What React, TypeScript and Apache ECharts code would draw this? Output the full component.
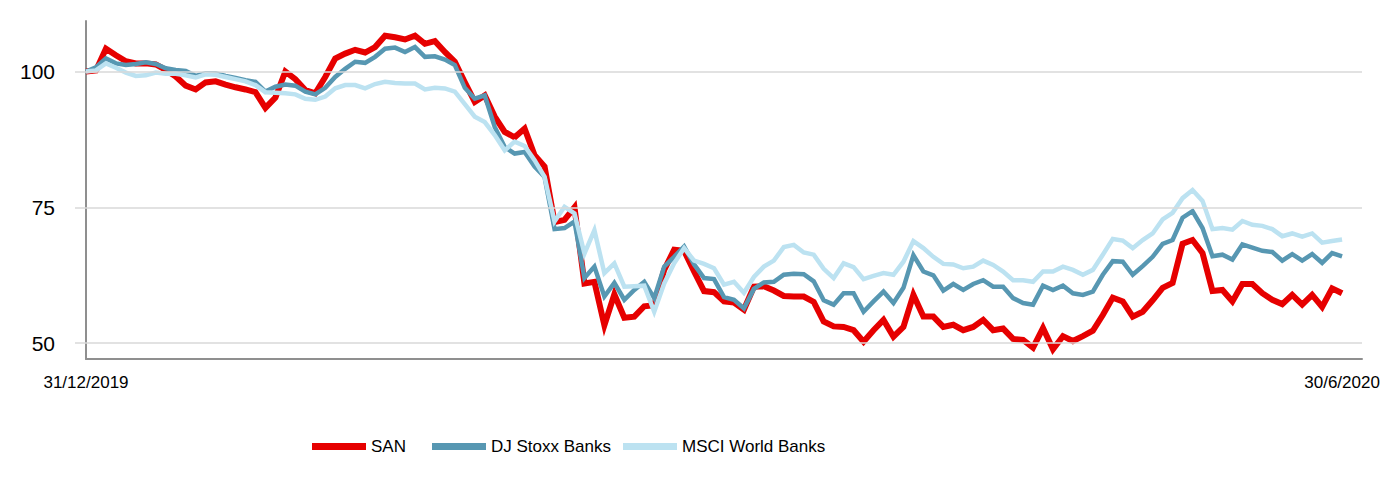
import { useEffect, useRef } from "react";
import * as echarts from "echarts";

const startLabel = "31/12/2019";
const endLabel = "30/6/2020";
const yTicks = [50, 75, 100];
const seriesNames = ["SAN", "DJ Stoxx Banks", "MSCI World Banks"];

const san = [
  100.0, 100.2, 104.2, 103.0, 101.9, 101.5, 101.5, 101.3, 100.3, 99.1,
  97.4, 96.7, 98.0, 98.2, 97.6, 97.1, 96.7, 96.2, 93.3, 95.2,
  100.0, 98.6, 96.6, 96.0, 99.0, 102.4, 103.3, 104.0, 103.5, 104.5,
  106.6, 106.3, 105.9, 106.6, 105.1, 105.6, 103.6, 101.8, 98.0, 94.4,
  95.6, 91.7, 88.9, 87.9, 89.5, 84.6, 82.5, 72.3, 72.7, 75.0,
  61.0, 61.3, 53.3, 59.0, 54.7, 54.9, 56.8, 57.0, 63.5, 67.2,
  67.0, 63.2, 59.6, 59.4, 57.7, 57.5, 56.2, 60.4, 60.5, 59.7,
  58.7, 58.6, 58.6, 57.6, 54.0, 53.1, 53.0, 52.4, 50.3, 52.4,
  54.3, 51.2, 53.0, 58.9, 54.9, 54.9, 53.0, 53.4, 52.4, 53.0,
  54.3, 52.4, 52.7, 50.8, 50.6, 49.2, 52.8, 48.9, 51.3, 50.4,
  51.3, 52.3, 55.2, 58.4, 57.7, 54.9, 55.8, 57.9, 60.2, 61.1,
  68.3, 69.0, 66.6, 59.6, 59.8, 57.7, 60.9, 60.9, 59.2, 58.0,
  57.2, 58.9, 57.1, 58.9, 56.7, 60.1, 59.2,
];

const djStoxxBanks = [
  100.0, 100.8, 102.4, 101.5, 101.2, 101.4, 101.7, 101.4, 100.6, 100.3,
  100.1, 99.2, 99.7, 99.7, 99.2, 98.8, 98.4, 98.1, 96.3, 97.2,
  97.6, 97.4, 96.3, 95.8, 97.0, 99.0, 100.5, 101.8, 101.6, 102.7,
  104.2, 104.4, 103.6, 104.5, 102.7, 102.8, 102.2, 101.2, 97.0, 95.0,
  95.6, 89.8, 86.1, 84.9, 85.2, 82.5, 80.6, 71.0, 71.2, 72.4,
  62.0, 64.1, 58.6, 61.1, 58.0, 59.8, 61.3, 58.3, 64.1, 65.9,
  67.8, 64.5, 62.0, 61.8, 58.5, 58.0, 56.4, 60.0, 61.2, 61.3,
  62.6, 62.8, 62.7, 61.4, 57.9, 57.1, 59.2, 59.2, 55.8, 57.7,
  59.5, 57.4, 60.2, 66.2, 63.2, 62.5, 59.7, 60.9, 59.8, 60.9,
  61.6, 60.4, 60.4, 58.3, 57.4, 57.1, 60.6, 59.8, 60.6, 59.2,
  58.9, 59.5, 62.6, 65.1, 65.0, 62.6, 64.2, 65.9, 68.3, 69.0,
  73.1, 74.3, 71.2, 66.0, 66.3, 65.4, 68.2, 67.6, 67.0, 66.8,
  65.2, 66.4, 65.2, 66.4, 64.8, 66.6, 66.0,
];

const msciWorldBanks = [
  100.0, 100.2, 101.5, 100.7, 99.8, 99.2, 99.3, 99.8, 99.6, 99.6,
  99.3, 98.9, 99.5, 99.4, 99.0, 98.6, 98.2, 97.5, 96.2, 96.1,
  96.0, 95.8, 95.0, 94.8, 95.4, 96.9, 97.5, 97.5, 96.9, 97.7,
  98.1, 97.9, 97.8, 97.8, 96.7, 97.0, 96.9, 96.3, 94.0, 91.7,
  90.7, 88.3, 85.5, 87.1, 86.3, 83.7, 80.6, 72.4, 75.1, 73.9,
  66.5, 70.8, 62.9, 64.7, 60.4, 60.5, 60.6, 55.8, 61.0, 64.7,
  67.5, 65.2, 64.6, 63.8, 60.8, 61.3, 59.3, 62.2, 64.1, 65.2,
  67.7, 68.1, 66.7, 66.3, 63.7, 62.0, 64.7, 64.0, 61.8, 62.4,
  62.9, 62.6, 65.0, 68.8, 67.5, 65.9, 64.6, 64.5, 63.8, 64.1,
  65.2, 64.4, 63.2, 61.6, 61.6, 61.3, 63.2, 63.2, 64.1, 63.5,
  62.6, 63.5, 66.3, 69.2, 68.9, 67.5, 69.0, 70.2, 72.8, 74.0,
  76.7, 78.2, 76.2, 71.0, 71.2, 70.9, 72.5, 71.8, 71.6, 71.0,
  69.7, 70.2, 69.6, 70.2, 68.5, 68.8, 69.1,
];

const colors = ["#E60000", "#5797B2", "#BCE2F1"];
const legendLefts = [312, 432, 623];

export default function App() {
  const ref = useRef<HTMLDivElement>(null);

  useEffect(() => {
    if (!ref.current) return;
    const chart = echarts.init(ref.current, null, { renderer: "svg" });
    const categories = Array.from({ length: san.length + 2 }, (_, i) => String(i));
    const lastIndex = san.length - 1;
    const labelFont = "'Liberation Sans', Arial, sans-serif";

    const makeSeries = (name: string, data: number[], color: string, width: number, extra: any = {}) => ({
      name,
      type: "line",
      data,
      symbol: "none",
      showSymbol: false,
      smooth: false,
      color,
      lineStyle: { color, width, join: "miter", miterLimit: 4 },
      emphasis: { disabled: true },
      ...extra,
    });

    chart.setOption({
      animation: false,
      backgroundColor: "#ffffff",
      grid: { left: 86, right: 20, top: 21, bottom: 129, containLabel: false, outerBoundsMode: "none" },
      legend: seriesNames.map((name, i) => ({
        left: legendLefts[i],
        top: 438,
        padding: 0,
        icon: "rect",
        itemWidth: 54,
        itemHeight: 7,
        selectedMode: false,
        data: [name],
        textStyle: {
          fontSize: 17,
          color: "#000000",
          fontFamily: labelFont,
        },
      })),
      xAxis: {
        type: "category",
        data: categories,
        boundaryGap: false,
        axisLine: { show: true, lineStyle: { color: "#8f8f8f", width: 2 } },
        axisTick: { show: false },
        splitLine: { show: false },
        axisLabel: {
          interval: 0,
          margin: 15,
          fontSize: 17,
          color: "#000000",
          fontFamily: labelFont,
          formatter: (_v: string, idx: number) =>
            idx === 0 ? startLabel : idx === lastIndex ? endLabel : "",
        },
      },
      yAxis: {
        type: "value",
        min: 47.1,
        max: 109.3,
        axisLine: { show: true, lineStyle: { color: "#8f8f8f", width: 2 } },
        axisTick: {
          show: true,
          length: 11,
          customValues: yTicks,
          lineStyle: { color: "#d9d9d9", width: 1.5 },
        },
        splitLine: { show: false },
        axisLabel: {
          customValues: yTicks,
          margin: 31,
          fontSize: 21,
          color: "#000000",
          fontFamily: labelFont,
        },
      },
      series: [
        makeSeries(seriesNames[0], san, colors[0], 6, {
          markLine: {
            silent: true,
            symbol: ["none", "none"],
            label: { show: false },
            lineStyle: { color: "#d9d9d9", width: 1.5, type: "solid" },
            emphasis: { disabled: true },
            data: yTicks.map((v) => ({ yAxis: v })),
          },
        }),
        makeSeries(seriesNames[1], djStoxxBanks, colors[1], 4.5),
        makeSeries(seriesNames[2], msciWorldBanks, colors[2], 4.5),
      ],
    });

    return () => chart.dispose();
  }, []);

  return (
    <div
      ref={ref}
      style={{ position: "absolute", left: 0, top: 0, width: 1382, height: 488 }}
    />
  );
}
